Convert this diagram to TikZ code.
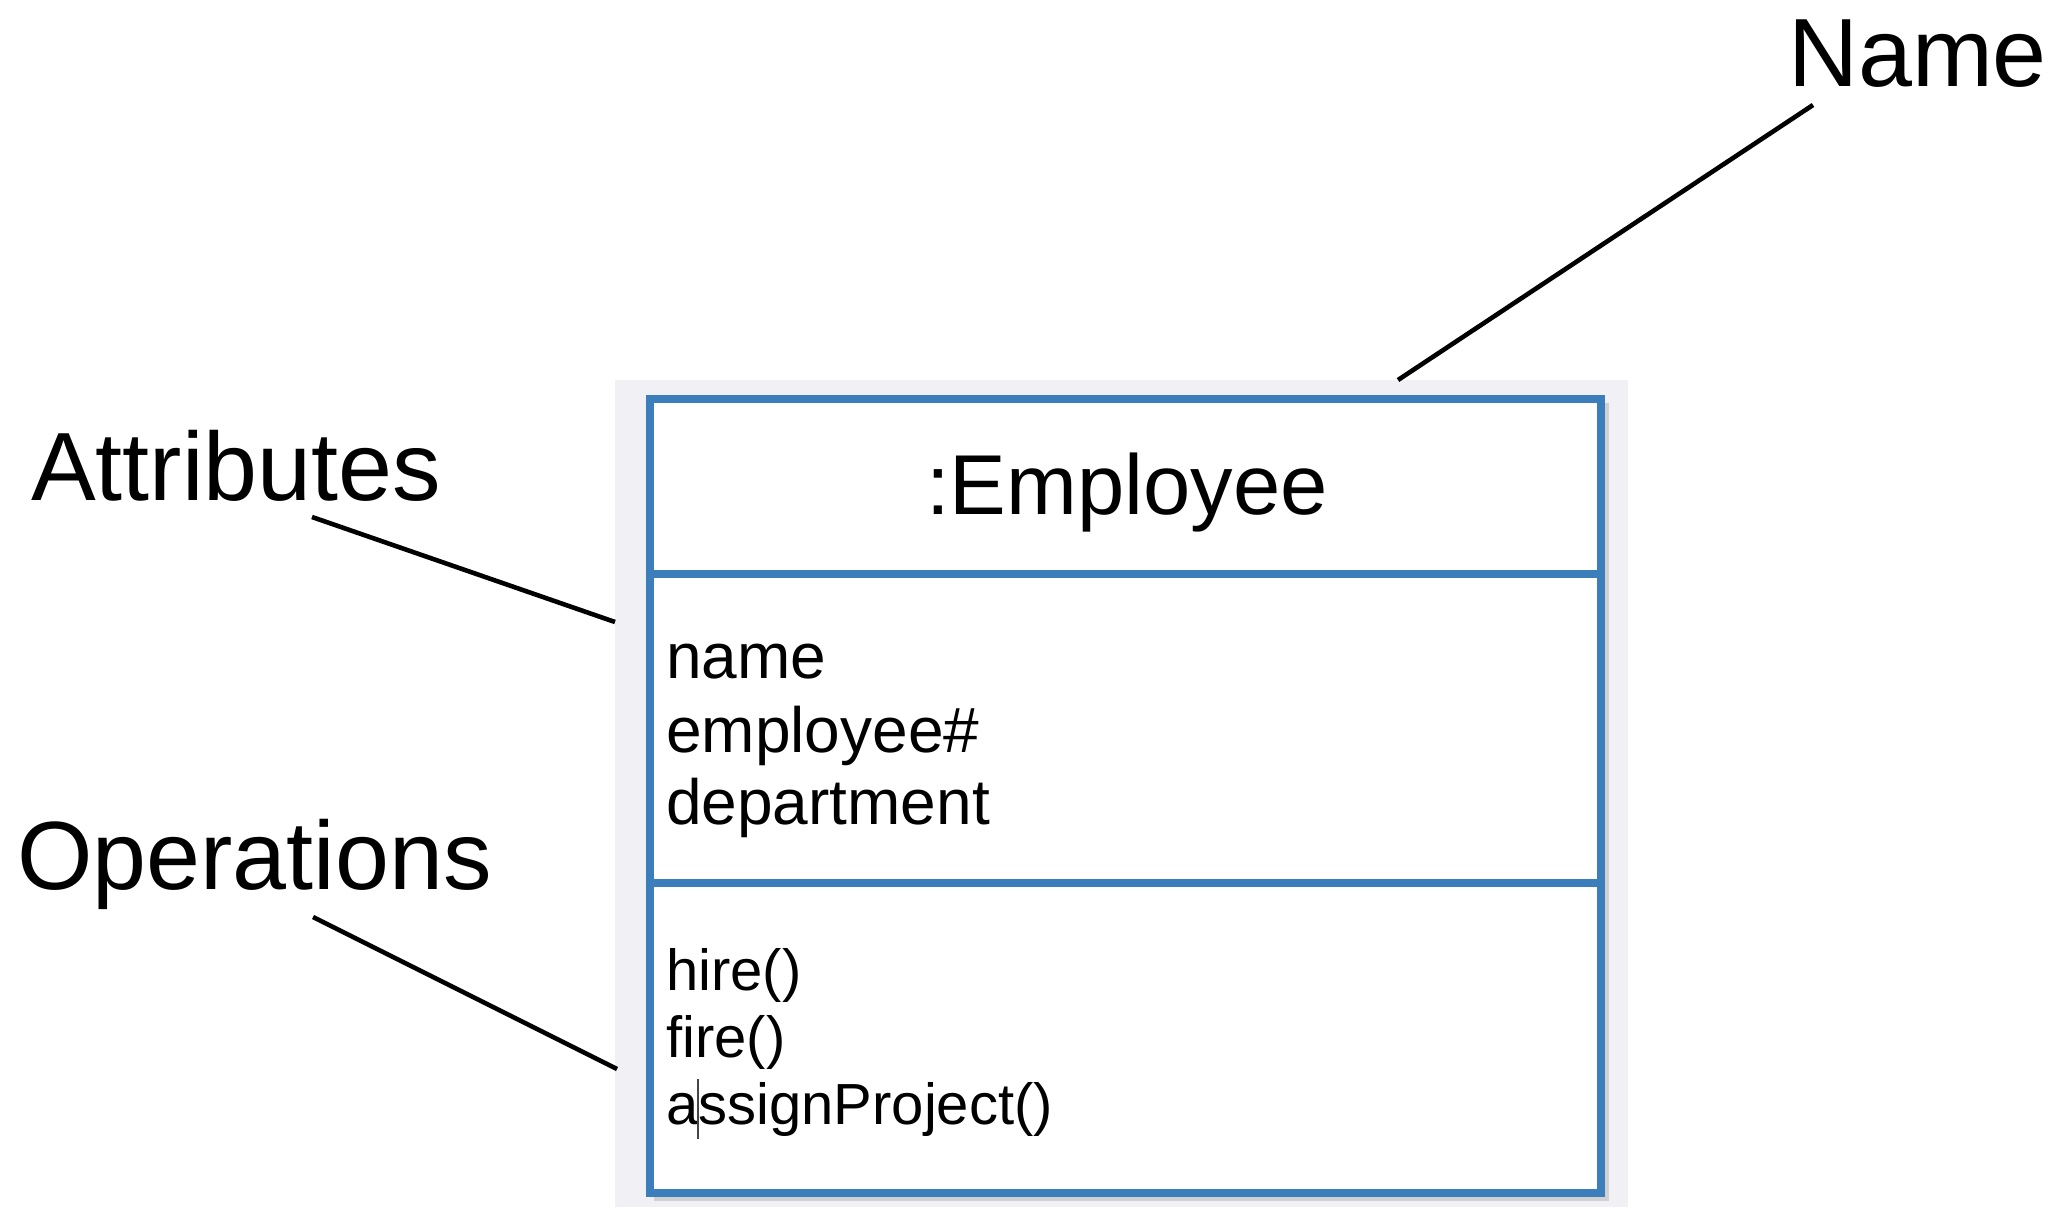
\documentclass[tikz,border=0pt]{standalone}
\usepackage{fontspec}
\setmainfont{Liberation Sans}
\definecolor{umlblue}{RGB}{60,126,187}
\definecolor{panelgray}{RGB}{240,240,245}
\definecolor{cursorgray}{RGB}{70,70,70}
\begin{document}
\begin{tikzpicture}[x=1pt,y=-1pt,
  callout/.style={draw=black,line width=4.6pt},
  calloutlabel/.style={anchor=base west,inner sep=0pt,font=\fontsize{97}{112}\selectfont},
  classtitle/.style={anchor=base,inner sep=0pt,font=\fontsize{85}{98}\selectfont},
  attrline/.style={anchor=base west,inner sep=0pt,font=\fontsize{64}{74}\selectfont},
  opline/.style={anchor=base west,inner sep=0pt,font=\fontsize{58}{67}\selectfont},
  umlframe/.style={draw=umlblue,line width=8pt},
]
\useasboundingbox (0,0) rectangle (2055,1207);

% panel behind the class box
\fill[panelgray] (615,380) rectangle (1628,1207);
% soft shadow of the class box
\draw[black!18,line width=8pt] (654,1197) -- (1605,1197) -- (1605,403);
% class box with its three compartments
\fill[white] (650,399) rectangle (1601,1193);
\draw[umlframe] (650,399) rectangle (1601,1193);
\draw[umlframe] (650,573.5) -- (1601,573.5);
\draw[umlframe] (650,883) -- (1601,883);

% compartment texts
\node[classtitle] (title) at (1127,514) {:Employee};
\node[attrline] (attrA) at (666,678) {name};
\node[attrline] (attrB) at (666,752) {employee\#};
\node[attrline] (attrC) at (666,824) {department};
\node[opline] (opA) at (666,990) {hire()};
\node[opline] (opB) at (666,1057) {fire()};
\node[opline] (opC) at (666,1124) {assignProject()};
% text cursor inside assignProject()
\coordinate (caretTop) at (698,1079);
\coordinate (caretBot) at (698,1139);
\draw[cursorgray,line width=1.6pt] (caretTop) -- (caretBot);

% callout labels
\node[calloutlabel] (lblName) at (1788,86) {Name};
\node[calloutlabel] (lblAttr) at (31,500) {Attributes};
\node[calloutlabel] (lblOps) at (17,889) {Operations};

% callout leader lines
\coordinate (nameFrom) at (1813,105);
\coordinate (nameTo) at (1398,380);
\coordinate (attrFrom) at (312,517);
\coordinate (attrTo) at (615,622);
\coordinate (opsFrom) at (313,917);
\coordinate (opsTo) at (617,1069);
\draw[callout] (nameFrom) -- (nameTo);
\draw[callout] (attrFrom) -- (attrTo);
\draw[callout] (opsFrom) -- (opsTo);
\end{tikzpicture}
\end{document}
